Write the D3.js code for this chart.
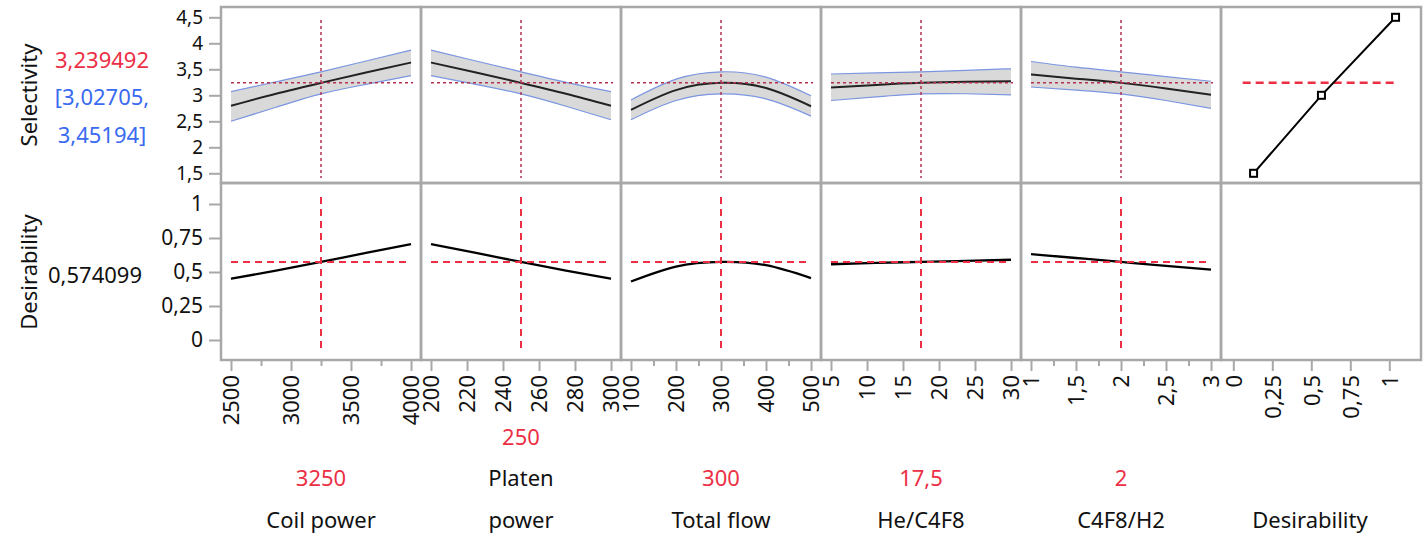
<!DOCTYPE html>
<html><head><meta charset="utf-8">
<script src="https://cdn.jsdelivr.net/npm/d3@7"></script>
<style>
html,body{margin:0;padding:0;background:#fff;}
text{font-family:"Noto Sans","Open Sans",sans-serif;}
</style></head>
<body><svg id="c" width="1427" height="536"></svg>
<script>
// ---------------- data ----------------
const factorLabels = [["Coil power"], ["Platen", "power"], ["Total flow"], ["He/C4F8"], ["C4F8/H2"]];
const currentValues = [3250, 250, 300, 17.5, 2];
const currentLabels = ["3250", "250", "300", "17,5", "2"];
const xDomains = [[2500, 4000], [200, 300], [100, 500], [5, 30], [1, 3]];
const xMajorTicks = [[2500, 3000, 3500, 4000], [200, 220, 240, 260, 280, 300], [100, 200, 300, 400, 500], [5, 10, 15, 20, 25, 30], [1, 1.5, 2, 2.5, 3]];
const xMinorTicks = [[2750, 3250, 3750], [], [150, 250, 350, 450], [], [1.25, 1.75, 2.25, 2.75]];

// sample x positions for each factor profile
const coilX = [2500, 2875, 3250, 3625, 4000];
const platenX = [200, 225, 250, 275, 300];
const flowX = [100, 200, 300, 400, 500];
const heX = [5, 11.25, 17.5, 23.75, 30];
const c4X = [1, 1.5, 2, 2.5, 3];

// Selectivity predictions and confidence bands
const coilSel = [2.80, 3.03, 3.239, 3.44, 3.63];
const coilLo = [2.50, 2.77, 3.027, 3.21, 3.38];
const coilHi = [3.07, 3.26, 3.452, 3.66, 3.87];
const platenSel = [3.63, 3.44, 3.239, 3.03, 2.80];
const platenLo = [3.38, 3.21, 3.027, 2.79, 2.53];
const platenHi = [3.87, 3.66, 3.452, 3.25, 3.07];
const flowSel = [2.72, 3.10, 3.239, 3.14, 2.79];
const flowLo = [2.53, 2.90, 3.027, 2.93, 2.60];
const flowHi = [2.91, 3.31, 3.452, 3.35, 2.99];
const heSel = [3.15, 3.20, 3.239, 3.26, 3.27];
const heLo = [2.90, 2.97, 3.027, 3.03, 3.01];
const heHi = [3.41, 3.43, 3.452, 3.48, 3.51];
const c4Sel = [3.40, 3.32, 3.239, 3.13, 3.01];
const c4Lo = [3.16, 3.10, 3.027, 2.90, 2.75];
const c4Hi = [3.65, 3.54, 3.452, 3.36, 3.27];

// Desirability profiles
const coilDes = [0.45, 0.51, 0.574, 0.64, 0.705];
const platenDes = [0.705, 0.64, 0.574, 0.51, 0.45];
const flowDes = [0.43, 0.54, 0.574, 0.55, 0.455];
const heDes = [0.557, 0.567, 0.574, 0.582, 0.59];
const c4Des = [0.632, 0.603, 0.574, 0.545, 0.517];

// Desirability function (response vs desirability)
const desFnD = [0.13, 0.565, 1.04];
const desFnY = [1.5, 3.0, 4.5];
const desRefRange = [0.06, 1.04];

const selTicks = [1.5, 2, 2.5, 3, 3.5, 4, 4.5];
const desTicks = [0, 0.25, 0.5, 0.75, 1];
const desXTicks = [0, 0.25, 0.5, 0.75, 1];
const selCurrent = 3.239492;
const selCI = ["[3,02705,", "3,45194]"];
const desCurrent = 0.574099;

const profX = [coilX, platenX, flowX, heX, c4X];
const profSel = [coilSel, platenSel, flowSel, heSel, c4Sel];
const profLo = [coilLo, platenLo, flowLo, heLo, c4Lo];
const profHi = [coilHi, platenHi, flowHi, heHi, c4Hi];
const profDes = [coilDes, platenDes, flowDes, heDes, c4Des];

// ---------------- layout ----------------
const svg = d3.select("#c");
const gridLeft = 221, panelW = 200;
const topY0 = 7, midY = 183, botY1 = 360;
const comma = d => String(d).replace(".", ",");
const RED = "#ec2f45", DARKRED = "#b5304f", BLUE = "#3a6af0", GRID = "#a8a8a8";
const FS = 22;

const yTop = d3.scaleLinear().domain([1.5, 4.5]).range([173.3, 17.3]);
const yBot = d3.scaleLinear().domain([0, 1]).range([340, 204]);

const xScales = xDomains.map((d, i) => {
  const L = gridLeft + panelW * i;
  return d3.scaleLinear().domain(d).range([L + 10, L + 190]);
});
const L6 = gridLeft + panelW * 5;
const xDes = d3.scaleLinear().domain([0, 1]).range([L6 + 12.3, L6 + 168.3]);

// ------- profiles -------
const line = d3.line().curve(d3.curveNatural);

xScales.forEach((x, i) => {
  const xs = profX[i];
  const bandPts = xs.map((v, k) => [x(v), yTop(profLo[i][k]), yTop(profHi[i][k])]);
  svg.append("path")
    .attr("d", d3.area().curve(d3.curveNatural).x(p => p[0]).y0(p => p[1]).y1(p => p[2])(bandPts))
    .attr("fill", "#d9d9d9").attr("stroke", "none");
  svg.append("path").attr("d", line(xs.map((v, k) => [x(v), yTop(profHi[i][k])])))
    .attr("fill", "none").attr("stroke", "#7b96e0").attr("stroke-width", 1.2);
  svg.append("path").attr("d", line(xs.map((v, k) => [x(v), yTop(profLo[i][k])])))
    .attr("fill", "none").attr("stroke", "#7b96e0").attr("stroke-width", 1.2);
  svg.append("path").attr("d", line(xs.map((v, k) => [x(v), yTop(profSel[i][k])])))
    .attr("fill", "none").attr("stroke", "#222").attr("stroke-width", 2);

  const cx = x(currentValues[i]);
  svg.append("line").attr("x1", x.range()[0]).attr("x2", x.range()[1] + 2)
    .attr("y1", yTop(selCurrent)).attr("y2", yTop(selCurrent))
    .attr("stroke", DARKRED).attr("stroke-width", 1.5).attr("stroke-dasharray", "3,3");
  svg.append("line").attr("x1", cx).attr("x2", cx)
    .attr("y1", topY0 + 13).attr("y2", midY - 5)
    .attr("stroke", DARKRED).attr("stroke-width", 1.5).attr("stroke-dasharray", "3,3");

  svg.append("path").attr("d", line(xs.map((v, k) => [x(v), yBot(profDes[i][k])])))
    .attr("fill", "none").attr("stroke", "#000").attr("stroke-width", 2.3);
  svg.append("line").attr("x1", x.range()[0]).attr("x2", x.range()[1])
    .attr("y1", yBot(desCurrent)).attr("y2", yBot(desCurrent))
    .attr("stroke", RED).attr("stroke-width", 2).attr("stroke-dasharray", "7,5");
  svg.append("line").attr("x1", cx).attr("x2", cx)
    .attr("y1", midY + 14).attr("y2", botY1 - 10)
    .attr("stroke", RED).attr("stroke-width", 2).attr("stroke-dasharray", "7,5");
});

// desirability function panel
svg.append("line").attr("x1", xDes(desRefRange[0])).attr("x2", xDes(desRefRange[1]))
  .attr("y1", yTop(selCurrent)).attr("y2", yTop(selCurrent))
  .attr("stroke", RED).attr("stroke-width", 2.5).attr("stroke-dasharray", "8,5");
svg.append("path").attr("d", d3.line()(desFnD.map((d, k) => [xDes(d), yTop(desFnY[k])])))
  .attr("fill", "none").attr("stroke", "#000").attr("stroke-width", 2);
svg.selectAll("rect.pt").data(desFnD).enter().append("rect")
  .attr("x", (d) => xDes(d) - 3.5).attr("y", (d, k) => yTop(desFnY[k]) - 3.5)
  .attr("width", 7).attr("height", 7)
  .attr("fill", "#fff").attr("stroke", "#000").attr("stroke-width", 2);

// ------- grid borders -------
for (let i = 0; i < 6; i++) {
  const L = gridLeft + panelW * i;
  svg.append("rect").attr("x", L).attr("y", topY0).attr("width", panelW).attr("height", midY - topY0)
    .attr("fill", "none").attr("stroke", GRID).attr("stroke-width", 2.5);
  svg.append("rect").attr("x", L).attr("y", midY).attr("width", panelW).attr("height", botY1 - midY)
    .attr("fill", "none").attr("stroke", GRID).attr("stroke-width", 2.5);
}

// ------- axes -------
function styleAxis(g, fs) {
  g.select(".domain").remove();
  g.selectAll(".tick line").attr("stroke", GRID).attr("stroke-width", 2);
  g.selectAll(".tick text").attr("fill", "#111").style("font-size", (fs || FS) + "px")
    .style("font-family", '"Noto Sans","Open Sans",sans-serif');
}
const gy1 = svg.append("g").attr("transform", `translate(${gridLeft},0)`)
  .call(d3.axisLeft(yTop).tickValues(selTicks).tickSize(12).tickPadding(6).tickFormat(comma));
styleAxis(gy1, 19);
const gy2 = svg.append("g").attr("transform", `translate(${gridLeft},0)`)
  .call(d3.axisLeft(yBot).tickValues(desTicks).tickSize(12).tickPadding(6).tickFormat(comma));
styleAxis(gy2, 21);

function xAxis(scale, major, minor) {
  const g = svg.append("g").attr("transform", `translate(0,${botY1})`)
    .call(d3.axisBottom(scale).tickValues(major).tickSize(11).tickFormat(comma));
  styleAxis(g);
  g.selectAll(".tick text").attr("transform", "rotate(-90)").attr("text-anchor", "end")
    .attr("x", -15).attr("y", 0).attr("dy", "0.35em");
  if (minor.length) {
    const gm = svg.append("g").attr("transform", `translate(0,${botY1})`)
      .call(d3.axisBottom(scale).tickValues(minor).tickSize(6).tickFormat(""));
    styleAxis(gm);
  }
}
xScales.forEach((x, i) => xAxis(x, xMajorTicks[i], xMinorTicks[i]));
xAxis(xDes, desXTicks, []);

// ------- texts -------
function txt(x, y, s, color, anchor = "middle", rot = 0) {
  const t = svg.append("text").attr("text-anchor", anchor).attr("fill", color)
    .style("font-size", FS + "px").text(s);
  if (rot) t.attr("transform", `translate(${x},${y}) rotate(${rot})`);
  else t.attr("x", x).attr("y", y);
  return t;
}
txt(37, 95, "Selectivity", "#111", "middle", -90);
txt(37, 272, "Desirability", "#111", "middle", -90);
txt(102, 68, comma(selCurrent), RED);
txt(102, 105, selCI[0], BLUE);
txt(102, 143, selCI[1], BLUE);
txt(95, 283, comma(desCurrent), "#111");

factorLabels.forEach((lines, i) => {
  const cx = gridLeft + panelW * i + panelW / 2;
  const valY = lines.length > 1 ? 445 : 486;
  txt(cx, valY, currentLabels[i], RED);
  lines.forEach((s, k) => txt(cx, 528 - (lines.length - 1 - k) * 42, s, "#111"));
});
txt(1310, 528, "Desirability", "#111");
</script>
</body></html>
